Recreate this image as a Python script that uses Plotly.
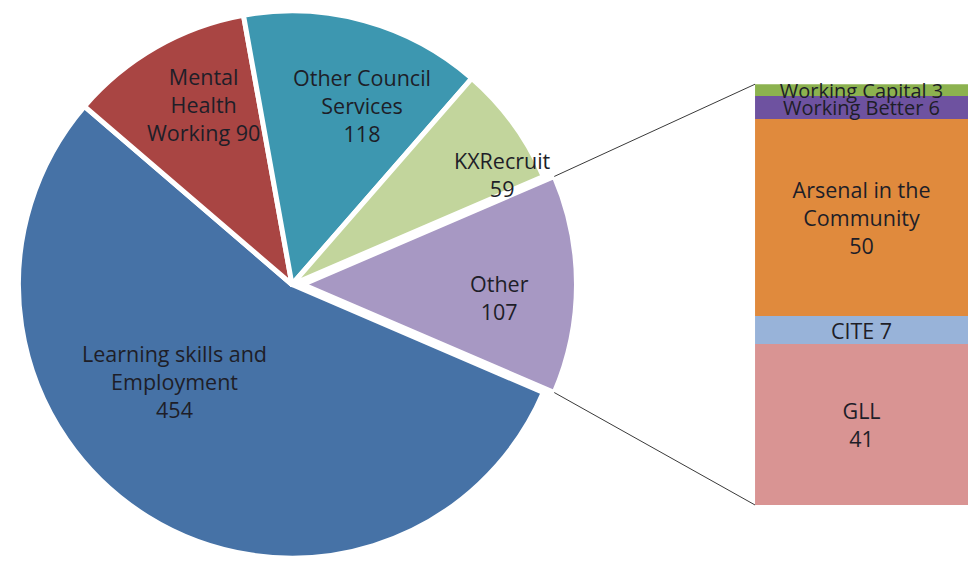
import math
import plotly.graph_objects as go

# ---- data ----
pie_labels = ["Learning skills and Employment", "Mental Health Working", "Other Council Services", "KXRecruit", "Other"]
pie_values = [454, 90, 118, 59, 107]
pie_colors = ["#4672A6", "#A94543", "#3D97B0", "#C2D59C", "#A798C3"]
pie_text = ["Learning skills and<br>Employment<br>454", "Mental<br>Health<br>Working 90",
            "Other Council<br>Services<br>118", "KXRecruit<br>59", "Other<br>107"]

bar_labels = ["GLL", "CITE", "Arsenal in the<br>Community", "Working Better", "Working Capital"]
bar_values = [41, 7, 50, 6, 3]
bar_colors = ["#D99493", "#98B3D9", "#E08A3D", "#6E52A0", "#8CB24F"]
bar_textfmt = ["{l}<br>{v}", "{l} {v}", "{l}<br>{v}", "{l} {v}", "{l} {v}"]

# label centres (pixels) for the pie labels, as placed in the original
pie_label_pos = [(174, 381), (203, 104), (362, 105), (503, 174), (499, 297)]

W, H = 968, 569
FONT = "Open Sans"
FS = 21.5
FS_SMALL = 20
TXT = "#1E1E28"

pull_other = 0.04
pulls = [0, 0, 0, 0, pull_other]
other_idx = 4
total = sum(pie_values)
other_frac = pie_values[other_idx] / total
rotation = 90 + other_frac * 180   # "Other" centred on 3 o'clock

pie_dom_x = [0.0, 0.6033]
pie_dom_y = [0.0, 1.0]
bar_dom_x = [0.78, 1.0]
bar_dom_y = [0.1125, 0.852]

fig = go.Figure()
fig.add_trace(go.Pie(
    labels=pie_labels, values=pie_values, sort=False, direction="clockwise",
    rotation=rotation, pull=pulls,
    marker=dict(colors=pie_colors, line=dict(color="white", width=5)),
    textinfo="none", domain=dict(x=pie_dom_x, y=pie_dom_y),
    showlegend=False, hoverinfo="label+value",
))

for t, (px, py) in zip(pie_text, pie_label_pos):
    fig.add_annotation(x=px / W, y=1 - py / H, xref="paper", yref="paper",
                       text=t, showarrow=False, xanchor="center", yanchor="middle",
                       font=dict(family=FONT, size=FS, color=TXT))

for lab, val, col, fmt in zip(bar_labels, bar_values, bar_colors, bar_textfmt):
    size = FS_SMALL if val < 7 else FS
    fig.add_trace(go.Bar(
        x=["Other"], y=[val], marker=dict(color=col, line=dict(width=0)),
        text=[fmt.format(l=lab, v=val)], texttemplate="%{text}",
        textposition="inside", insidetextanchor="middle", textangle=0,
        constraintext="none", cliponaxis=False,
        textfont=dict(family=FONT, size=size, color=TXT),
        xaxis="x", yaxis="y", showlegend=False, name=lab.replace("<br>", " "),
    ))

# connector lines from the exploded "Other" slice to the bar
pw = (pie_dom_x[1] - pie_dom_x[0]) * W
ph = (pie_dom_y[1] - pie_dom_y[0]) * H
r = min(pw, ph) / (2 + 2 * max(pulls))
cx = (pie_dom_x[0] + pie_dom_x[1]) / 2 * W + pull_other * r
cy = (pie_dom_y[0] + pie_dom_y[1]) / 2 * H
half = other_frac * math.pi
for sgn, by in ((1, bar_dom_y[1]), (-1, bar_dom_y[0])):
    px = cx + r * math.cos(half)
    py = cy + sgn * r * math.sin(half)
    fig.add_shape(type="line", xref="paper", yref="paper",
                  x0=px / W, y0=py / H, x1=bar_dom_x[0], y1=by,
                  line=dict(color="#3a3a3a", width=1))

fig.update_layout(
    width=W, height=H, margin=dict(l=0, r=0, t=0, b=0),
    paper_bgcolor="white", plot_bgcolor="white",
    barmode="stack", bargap=0,
    xaxis=dict(domain=bar_dom_x, visible=False),
    yaxis=dict(domain=bar_dom_y, range=[0, sum(bar_values)], visible=False),
    font=dict(family=FONT, color=TXT),
)
fig.write_html("out.html")
